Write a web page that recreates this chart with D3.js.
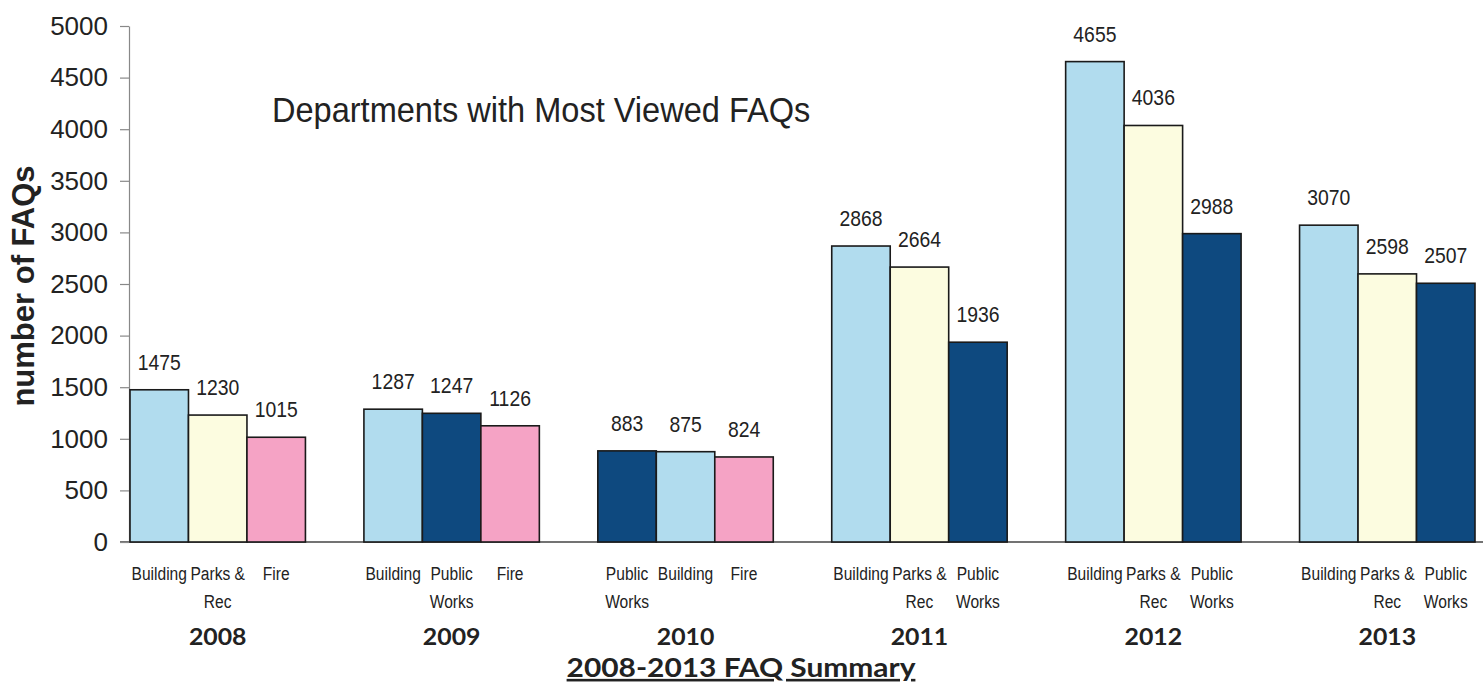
<!DOCTYPE html>
<html>
<head>
<meta charset="utf-8">
<script src="https://cdn.jsdelivr.net/npm/d3@7"></script>
<style>
  body { margin: 0; background: #fff; }
  svg text { fill: #222; }
</style>
</head>
<body>
<div id="chart"></div>
<script>
  "use strict";

  // chart values
  var years = ["2008", "2009", "2010", "2011", "2012", "2013"];
  var depts2008 = ["Building", "Parks & Rec", "Fire"];
  var depts2009 = ["Building", "Public Works", "Fire"];
  var depts2010 = ["Public Works", "Building", "Fire"];
  var depts2011 = ["Building", "Parks & Rec", "Public Works"];
  var depts2012 = ["Building", "Parks & Rec", "Public Works"];
  var depts2013 = ["Building", "Parks & Rec", "Public Works"];
  var views2008 = [1475, 1230, 1015];
  var views2009 = [1287, 1247, 1126];
  var views2010 = [883, 875, 824];
  var views2011 = [2868, 2664, 1936];
  var views2012 = [4655, 4036, 2988];
  var views2013 = [3070, 2598, 2507];
  var yTicks = [0, 500, 1000, 1500, 2000, 2500, 3000, 3500, 4000, 4500, 5000];
  var deptNames = ["Building", "Parks & Rec", "Fire", "Public Works"];
  var deptColors = ["#b1dcee", "#fcfce0", "#f5a3c5", "#0e497f"];
  var deptLines = {
    "Building": ["Building"],
    "Parks & Rec": ["Parks &", "Rec"],
    "Fire": ["Fire"],
    "Public Works": ["Public", "Works"]
  };

  var deptsByYear = [depts2008, depts2009, depts2010, depts2011, depts2012, depts2013];
  var viewsByYear = [views2008, views2009, views2010, views2011, views2012, views2013];

  var width = 1483, height = 686;
  var narrow = 0.82; // the labels are set in a condensed face

  var x = d3.scaleBand().domain(years).range([130, 1475]).paddingInner(0.25).paddingOuter(0);
  var xSlot = d3.scaleBand().domain([0, 1, 2]).range([0, x.bandwidth()]);
  var y = d3.scaleLinear().domain([0, 5000]).range([542, 26]);
  var color = d3.scaleOrdinal().domain(deptNames).range(deptColors);

  var svg = d3.select("#chart")
    .append("svg")
    .attr("width", width)
    .attr("height", height);

  // baseline across the chart
  svg.append("line")
    .attr("x1", 120).attr("x2", width)
    .attr("y1", y(0)).attr("y2", y(0))
    .attr("stroke", "#444").attr("stroke-width", 1.5);

  // y axis
  var yAxis = svg.append("g")
    .attr("transform", "translate(129,0)")
    .call(d3.axisLeft(y).tickValues(yTicks).tickFormat(d3.format("d"))
      .tickSize(9).tickPadding(12).tickSizeOuter(0));
  yAxis.select(".domain").attr("stroke", "#888").attr("stroke-width", 1.2);
  yAxis.selectAll(".tick line").attr("stroke", "#888").attr("stroke-width", 1.2);
  yAxis.selectAll(".tick text")
    .style("font-family", "'Liberation Sans', Arial, sans-serif")
    .style("font-size", "26px")
    .attr("fill", "#222");

  // one group per year
  var groups = svg.selectAll("g.year")
    .data(years.map(function(yr, i) {
      return { year: yr, items: deptsByYear[i].map(function(d, j) {
        return { dept: d, value: viewsByYear[i][j], slot: j };
      }) };
    }))
    .enter()
    .append("g")
    .attr("class", "year")
    .attr("transform", function(d) { return "translate(" + x(d.year) + ",0)"; });

  groups.selectAll("rect")
    .data(function(d) { return d.items; })
    .enter()
    .append("rect")
    .attr("x", function(d) { return xSlot(d.slot); })
    .attr("y", function(d) { return y(d.value); })
    .attr("width", xSlot.bandwidth())
    .attr("height", function(d) { return y(0) - y(d.value); })
    .attr("fill", function(d) { return color(d.dept); })
    .attr("stroke", "#1a1a1a")
    .attr("stroke-width", 1.6);

  // value labels
  groups.selectAll("text.val")
    .data(function(d) { return d.items; })
    .enter()
    .append("text")
    .attr("class", "val")
    .attr("transform", function(d) {
      return "translate(" + (xSlot(d.slot) + xSlot.bandwidth() / 2) + "," + (y(d.value) - 20) + ") scale(0.88,1)";
    })
    .attr("text-anchor", "middle")
    .style("font-family", "'Liberation Sans', Arial, sans-serif")
    .style("font-size", "22px")
    .text(function(d) { return d.value; });

  // department labels under the bars
  var catLabels = groups.selectAll("text.cat")
    .data(function(d) { return d.items; })
    .enter()
    .append("text")
    .attr("class", "cat")
    .attr("transform", function(d) {
      return "translate(" + (xSlot(d.slot) + xSlot.bandwidth() / 2) + ",0) scale(" + narrow + ",1)";
    })
    .attr("text-anchor", "middle")
    .style("font-family", "'Liberation Sans', Arial, sans-serif")
    .style("font-size", "19px");

  catLabels.selectAll("tspan")
    .data(function(d) { return deptLines[d.dept]; })
    .enter()
    .append("tspan")
    .attr("x", 0)
    .attr("y", function(d, i) { return 580 + i * 28; })
    .text(function(d) { return d; });

  // year labels
  groups.append("text")
    .attr("transform", "translate(" + (x.bandwidth() / 2) + ",645) scale(1.08,1)")
    .attr("text-anchor", "middle")
    .style("font-family", "'Century Gothic', 'URW Gothic', Lato, 'Open Sans', sans-serif")
    .style("font-weight", "bold")
    .style("font-size", "23px")
    .text(function(d) { return d.year; });

  // chart title inside the plot
  svg.append("text")
    .attr("transform", "translate(272,122) scale(0.93,1)")
    .style("font-family", "'Liberation Sans', Arial, sans-serif")
    .style("font-size", "35px")
    .text("Departments with Most Viewed FAQs");

  // y axis title
  svg.append("text")
    .attr("transform", "translate(34,286) rotate(-90)")
    .attr("text-anchor", "middle")
    .style("font-family", "'Liberation Sans', Arial, sans-serif")
    .style("font-weight", "bold")
    .style("font-size", "31px")
    .text("number of FAQs");

  // x axis title
  svg.append("text")
    .attr("transform", "translate(741,677) scale(1.15,1)")
    .attr("text-anchor", "middle")
    .style("font-family", "'Century Gothic', 'URW Gothic', Lato, 'Open Sans', sans-serif")
    .style("font-weight", "bold")
    .style("font-size", "26px")
    .style("text-decoration", "underline")
    .text("2008-2013 FAQ Summary");
</script>
</body>
</html>
